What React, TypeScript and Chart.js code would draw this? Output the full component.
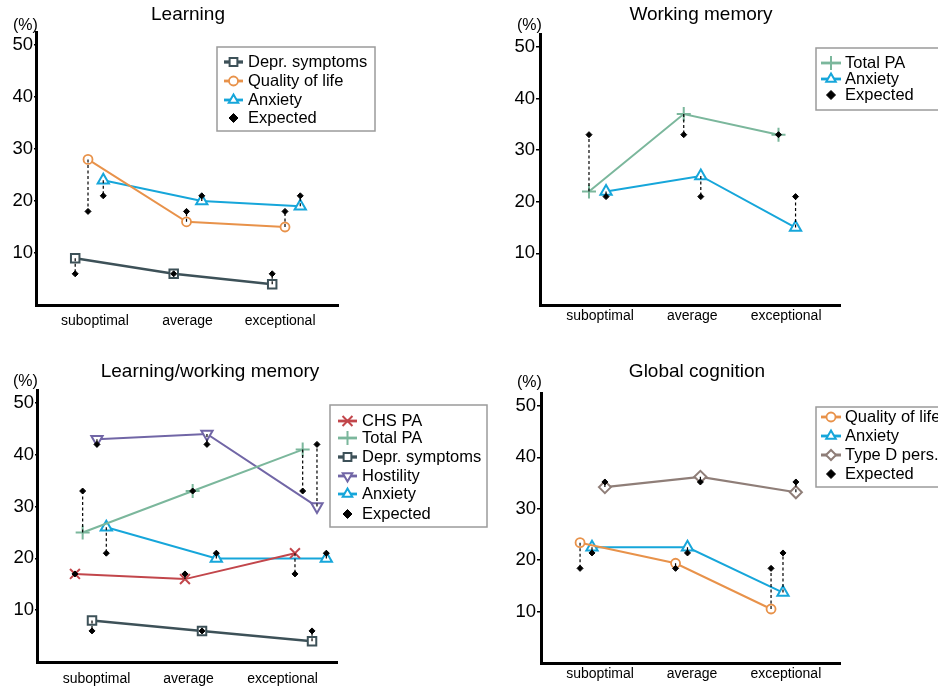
import React, { useEffect, useRef } from 'react';
import { Chart, registerables } from 'chart.js';
import { drawPoint } from 'chart.js/helpers';

Chart.register(...registerables);

const FONT = "'Liberation Sans', Arial, Helvetica, sans-serif";

const CATEGORIES = ['suboptimal', 'average', 'exceptional'];
const Y_TICKS = [10, 20, 30, 40, 50];

// Learning
const learningDeprObserved = [9, 6, 4];
const learningDeprExpected = [6, 6, 6];
const learningQolObserved = [28, 16, 15];
const learningQolExpected = [18, 18, 18];
const learningAnxObserved = [24, 20, 19];
const learningAnxExpected = [21, 21, 21];

// Working memory
const wmTotalPaObserved = [22, 37, 33];
const wmTotalPaExpected = [33, 33, 33];
const wmAnxObserved = [22, 25, 15];
const wmAnxExpected = [21, 21, 21];

// Learning/working memory
const lwmChsPaObserved = [17, 16, 21];
const lwmChsPaExpected = [17, 17, 17];
const lwmTotalPaObserved = [25, 33, 41];
const lwmTotalPaExpected = [33, 33, 33];
const lwmDeprObserved = [8, 6, 4];
const lwmDeprExpected = [6, 6, 6];
const lwmHostObserved = [43, 44, 30];
const lwmHostExpected = [42, 42, 42];
const lwmAnxObserved = [26, 20, 20];
const lwmAnxExpected = [21, 21, 21];

// Global cognition
const gcQolObserved = [23.4, 19.4, 10.5];
const gcQolExpected = [18.4, 18.4, 18.4];
const gcAnxObserved = [22.5, 22.5, 13.7];
const gcAnxExpected = [21.4, 21.4, 21.4];
const gcTypeDObserved = [34.2, 36.2, 33.2];
const gcTypeDExpected = [35.2, 35.2, 35.2];

interface SeriesStyle {
  color: string;
  pointStyle: string;
  radius: number;
  legendRadius: number;
  lineWidth: number;
  pointBorderWidth: number;
  rotation?: number;
}

const STYLES: Record<string, SeriesStyle> = {
  depr: { color: '#3d5158', pointStyle: 'rect', radius: 6, legendRadius: 5.5, lineWidth: 2.5, pointBorderWidth: 2 },
  qol: { color: '#e8924a', pointStyle: 'circle', radius: 4.5, legendRadius: 4.5, lineWidth: 2, pointBorderWidth: 1.8 },
  anx: { color: '#16a6da', pointStyle: 'triangle', radius: 6.5, legendRadius: 5.5, lineWidth: 2, pointBorderWidth: 2 },
  totalPa: { color: '#7bb79c', pointStyle: 'cross', radius: 7, legendRadius: 7, lineWidth: 2, pointBorderWidth: 2 },
  chsPa: { color: '#c2464b', pointStyle: 'crossRot', radius: 7, legendRadius: 7, lineWidth: 2, pointBorderWidth: 2 },
  host: { color: '#7166a6', pointStyle: 'triangle', rotation: 180, radius: 6.5, legendRadius: 5.5, lineWidth: 2, pointBorderWidth: 2 },
  typeD: { color: '#8f7e78', pointStyle: 'rectRot', radius: 6, legendRadius: 5, lineWidth: 2.2, pointBorderWidth: 2 },
};

interface Series {
  label: string;
  style: SeriesStyle;
  observed: number[];
  expected: number[];
  offset: number;
}

interface PanelSpec {
  title: string;
  series: Series[];
  canvas: { left: number; top: number; width: number; height: number };
  area: { left: number; right: number; top: number; bottom: number };
  xMin: number;
  xMax: number;
  labelAt: number[];
  xLabelPadding: number;
  yTickLength: number;
  titlePos: [number, number];
  unitPos: [number, number];
  legend: { x: number; y: number; w: number; h: number; rows: number[]; symX0: number; symX1: number; textX: number };
}

const PANELS: PanelSpec[] = [
  {
    title: 'Learning',
    series: [
      { label: 'Depr. symptoms', style: STYLES.depr, observed: learningDeprObserved, expected: learningDeprExpected, offset: -0.13 },
      { label: 'Quality of life', style: STYLES.qol, observed: learningQolObserved, expected: learningQolExpected, offset: 0 },
      { label: 'Anxiety', style: STYLES.anx, observed: learningAnxObserved, expected: learningAnxExpected, offset: 0.155 },
    ],
    canvas: { left: 0, top: 0, width: 500, height: 350 },
    area: { left: 36, right: 338, top: 32, bottom: 305 },
    xMin: 0.472,
    xMax: 3.538,
    labelAt: [1.07, 2.01, 2.95],
    xLabelPadding: 8,
    yTickLength: 2,
    titlePos: [188, 15],
    unitPos: [13, 26],
    legend: { x: 217, y: 47, w: 158, h: 84, rows: [62, 81, 100, 118], symX0: 224, symX1: 243, textX: 248 },
  },
  {
    title: 'Working memory',
    series: [
      { label: 'Total PA', style: STYLES.totalPa, observed: wmTotalPaObserved, expected: wmTotalPaExpected, offset: -0.09 },
      { label: 'Anxiety', style: STYLES.anx, observed: wmAnxObserved, expected: wmAnxExpected, offset: 0.09 },
    ],
    canvas: { left: 500, top: 0, width: 438, height: 350 },
    area: { left: 40, right: 340, top: 34, bottom: 305 },
    xMin: 0.393,
    xMax: 3.559,
    labelAt: [1.026, 2.0, 2.99],
    xLabelPadding: 3,
    yTickLength: 4,
    titlePos: [201, 15],
    unitPos: [17, 26],
    legend: { x: 316, y: 48, w: 140, h: 62, rows: [63, 79, 95], symX0: 321, symX1: 341, textX: 345 },
  },
  {
    title: 'Learning/working memory',
    series: [
      { label: 'CHS PA', style: STYLES.chsPa, observed: lwmChsPaObserved, expected: lwmChsPaExpected, offset: -0.155 },
      { label: 'Total PA', style: STYLES.totalPa, observed: lwmTotalPaObserved, expected: lwmTotalPaExpected, offset: -0.085 },
      { label: 'Depr. symptoms', style: STYLES.depr, observed: lwmDeprObserved, expected: lwmDeprExpected, offset: 0 },
      { label: 'Hostility', style: STYLES.host, observed: lwmHostObserved, expected: lwmHostExpected, offset: 0.045 },
      { label: 'Anxiety', style: STYLES.anx, observed: lwmAnxObserved, expected: lwmAnxExpected, offset: 0.13 },
    ],
    canvas: { left: 0, top: 350, width: 500, height: 337 },
    area: { left: 37, right: 337, top: 40, bottom: 312 },
    xMin: 0.5,
    xMax: 3.227,
    labelAt: [1.041, 1.877, 2.732],
    xLabelPadding: 9,
    yTickLength: 2,
    titlePos: [210, 22],
    unitPos: [13, 32],
    legend: { x: 330, y: 55, w: 157, h: 122, rows: [71, 88, 107, 126, 144, 164], symX0: 338, symX1: 357, textX: 362 },
  },
  {
    title: 'Global cognition',
    series: [
      { label: 'Quality of life', style: STYLES.qol, observed: gcQolObserved, expected: gcQolExpected, offset: -0.125 },
      { label: 'Anxiety', style: STYLES.anx, observed: gcAnxObserved, expected: gcAnxExpected, offset: 0 },
      { label: 'Type D pers.', style: STYLES.typeD, observed: gcTypeDObserved, expected: gcTypeDExpected, offset: 0.135 },
    ],
    canvas: { left: 500, top: 350, width: 438, height: 337 },
    area: { left: 41, right: 340, top: 43, bottom: 313 },
    xMin: 0.466,
    xMax: 3.597,
    labelAt: [1.084, 2.047, 3.03],
    xLabelPadding: 3,
    yTickLength: 4,
    titlePos: [197, 22],
    unitPos: [17, 33],
    legend: { x: 316, y: 57, w: 140, h: 80, rows: [67, 86, 105, 124], symX0: 321, symX1: 341, textX: 345 },
  },
];

const LEGEND_FONT = `16.5px ${FONT}`;

function makeDecor(panel: PanelSpec) {
  return {
    id: 'panelDecor',
    afterDraw(chart: any) {
      const ctx: CanvasRenderingContext2D = chart.ctx;
      ctx.save();
      ctx.fillStyle = '#000';
      ctx.textBaseline = 'middle';
      ctx.font = `19px ${FONT}`;
      ctx.textAlign = 'center';
      ctx.fillText(panel.title, panel.titlePos[0], panel.titlePos[1]);
      ctx.font = `16px ${FONT}`;
      ctx.textAlign = 'left';
      ctx.fillText('(%)', panel.unitPos[0], panel.unitPos[1]);

      const L = panel.legend;
      ctx.fillStyle = '#fff';
      ctx.fillRect(L.x, L.y, L.w, L.h);
      ctx.strokeStyle = '#9b9b9b';
      ctx.lineWidth = 1.5;
      ctx.strokeRect(L.x, L.y, L.w, L.h);

      const midX = (L.symX0 + L.symX1) / 2;
      panel.series.forEach((s, i) => {
        const y = L.rows[i];
        ctx.strokeStyle = s.style.color;
        ctx.lineWidth = s.style.lineWidth + 0.8;
        ctx.beginPath();
        ctx.moveTo(L.symX0, y);
        ctx.lineTo(L.symX1, y);
        ctx.stroke();
        ctx.fillStyle = '#fff';
        ctx.lineWidth = s.style.pointBorderWidth;
        drawPoint(ctx, {
          pointStyle: s.style.pointStyle as any,
          rotation: s.style.rotation || 0,
          radius: s.style.legendRadius,
          borderWidth: s.style.pointBorderWidth,
        }, midX, y);
        ctx.fillStyle = '#000';
        ctx.font = LEGEND_FONT;
        ctx.textAlign = 'left';
        ctx.textBaseline = 'middle';
        ctx.fillText(s.label, L.textX, y);
      });
      const ey = L.rows[panel.series.length];
      ctx.fillStyle = '#000';
      ctx.strokeStyle = '#000';
      ctx.lineWidth = 1;
      drawPoint(ctx, { pointStyle: 'rectRot', rotation: 0, radius: 4.5, borderWidth: 1 }, midX, ey);
      ctx.font = LEGEND_FONT;
      ctx.fillText('Expected', L.textX, ey);
      ctx.restore();
    },
  };
}

function buildDatasets(panel: PanelSpec) {
  const datasets: any[] = [];
  const expectedPoints: { x: number; y: number }[] = [];
  panel.series.forEach((s) => {
    const xs = s.observed.map((_, i) => i + 1 + s.offset);
    datasets.push({
      label: s.label,
      data: s.observed.map((v, i) => ({ x: xs[i], y: v })),
      borderColor: s.style.color,
      borderWidth: s.style.lineWidth,
      pointStyle: s.style.pointStyle,
      pointRotation: s.style.rotation || 0,
      pointRadius: s.style.radius,
      pointBorderWidth: s.style.pointBorderWidth,
      pointBorderColor: s.style.color,
      pointBackgroundColor: '#ffffff',
      tension: 0,
      fill: false,
      order: 3,
    });
    s.expected.forEach((e, i) => {
      datasets.push({
        label: `${s.label} gap`,
        data: [
          { x: xs[i], y: s.observed[i] },
          { x: xs[i], y: e },
        ],
        borderColor: '#000',
        borderWidth: 1.2,
        borderDash: [3, 2.5],
        pointRadius: 0,
        fill: false,
        order: 2,
      });
      expectedPoints.push({ x: xs[i], y: e });
    });
  });
  datasets.push({
    label: 'Expected',
    data: expectedPoints,
    showLine: false,
    pointStyle: 'rectRot',
    pointRadius: 3,
    pointBorderWidth: 1,
    pointBackgroundColor: '#000',
    pointBorderColor: '#000',
    order: 1,
  });
  return datasets;
}

function Panel({ panel }: { panel: PanelSpec }) {
  const ref = useRef<HTMLCanvasElement | null>(null);
  useEffect(() => {
    if (!ref.current) return;
    const { canvas, area } = panel;
    // axis boxes take up the whole margin so their labels are never clipped
    const yAxisWidth = area.left;
    const xAxisHeight = canvas.height - area.bottom;
    const chart = new Chart(ref.current, {
      type: 'line',
      data: { datasets: buildDatasets(panel) },
      options: {
        animation: false,
        responsive: false,
        devicePixelRatio: 1,
        clip: false as any,
        layout: {
          padding: {
            left: 0,
            right: canvas.width - area.right,
            top: area.top,
            bottom: 0,
          },
        },
        plugins: {
          legend: { display: false },
          tooltip: { enabled: false },
          title: { display: false },
        },
        scales: {
          x: {
            type: 'linear',
            min: panel.xMin,
            max: panel.xMax,
            afterBuildTicks: (scale: any) => {
              scale.ticks = panel.labelAt.map((v) => ({ value: v }));
            },
            afterFit: (scale: any) => {
              scale.height = xAxisHeight;
            },
            ticks: {
              autoSkip: false,
              maxRotation: 0,
              padding: panel.xLabelPadding,
              color: '#000',
              font: { family: FONT, size: 14 },
              callback: (_v: any, i: number) => CATEGORIES[i],
            },
            grid: { display: true, drawOnChartArea: false, drawTicks: false },
            border: { display: true, width: 3, color: '#000' },
          },
          y: {
            type: 'linear',
            min: 0,
            max: 52.5,
            afterBuildTicks: (scale: any) => {
              scale.ticks = Y_TICKS.map((v) => ({ value: v }));
            },
            afterFit: (scale: any) => {
              scale.width = yAxisWidth;
            },
            ticks: {
              padding: 1,
              color: '#000',
              font: { family: FONT, size: 18.5 },
              callback: (v: any) => String(v),
            },
            grid: {
              display: true,
              drawOnChartArea: false,
              drawTicks: true,
              tickLength: panel.yTickLength,
              color: '#000',
              lineWidth: 1.5,
            },
            border: { display: true, width: 3, color: '#000' },
          },
        },
      } as any,
      plugins: [makeDecor(panel)],
    });
    return () => chart.destroy();
  }, [panel]);

  const { canvas } = panel;
  return (
    <canvas
      ref={ref}
      width={canvas.width}
      height={canvas.height}
      style={{ position: 'absolute', left: canvas.left, top: canvas.top, width: canvas.width, height: canvas.height }}
    />
  );
}

export default function App() {
  return (
    <div style={{ position: 'fixed', left: 0, top: 0, width: 938, height: 687, background: '#fff', overflow: 'hidden' }}>
      {PANELS.map((p) => (
        <Panel key={p.title} panel={p} />
      ))}
    </div>
  );
}
